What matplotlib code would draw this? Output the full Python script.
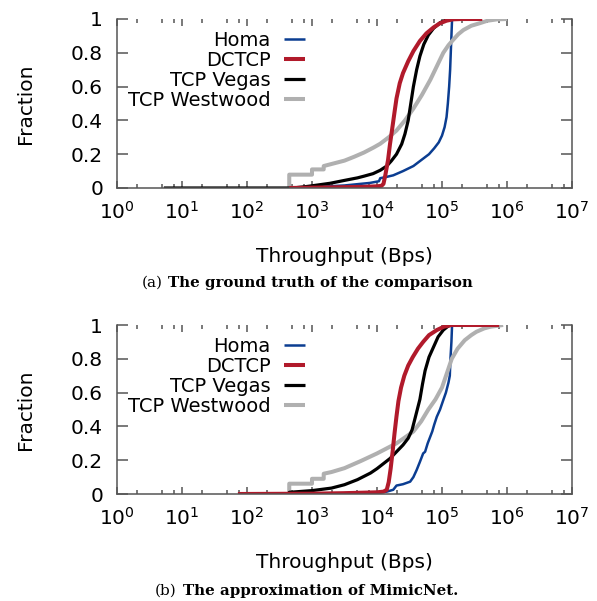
import numpy as np
import matplotlib
matplotlib.use("Agg")
import matplotlib.pyplot as plt
from matplotlib.ticker import LogLocator, FixedLocator, FixedFormatter, NullFormatter

plt.rcParams['font.family'] = ['DejaVu Sans']

# CDF curves: x as log10(Bps), y as fraction
# (a) ground truth
homa_a_lx = [3.0, 3.5, 3.89, 4.03, 4.05, 4.15, 4.25, 4.4, 4.56, 4.68, 4.80, 4.88, 4.95, 5.0,
             5.04, 5.07, 5.09, 5.11, 5.125, 5.135, 5.145, 5.155, 5.47]
homa_a_y = [0.005, 0.015, 0.03, 0.04, 0.058, 0.066, 0.075, 0.10, 0.13, 0.165, 0.20, 0.235, 0.27, 0.31,
            0.36, 0.42, 0.50, 0.60, 0.70, 0.80, 0.90, 1.0, 1.0]
dctcp_a_lx = [2.65, 3.0, 3.5, 3.8, 4.0, 4.07, 4.10, 4.13, 4.17, 4.20, 4.23, 4.27, 4.30, 4.35, 4.40,
              4.48, 4.56, 4.66, 4.76, 4.87, 4.97, 5.07, 5.17, 5.3, 5.62]
dctcp_a_y = [0.0, 0.002, 0.005, 0.007, 0.01, 0.013, 0.025, 0.08, 0.166, 0.26, 0.34, 0.45, 0.53, 0.62, 0.68,
             0.75, 0.81, 0.87, 0.915, 0.95, 0.975, 0.99, 0.998, 1.0, 1.0]
vegas_a_lx = [0.72, 2.7, 2.9, 3.0, 3.28, 3.5, 3.7, 3.8, 3.94, 4.05, 4.15, 4.22, 4.30, 4.38, 4.43,
              4.48, 4.52, 4.56, 4.61, 4.66, 4.72, 4.79, 4.87, 4.97, 5.05, 5.15, 5.45]
vegas_a_y = [0.0, 0.0, 0.008, 0.013, 0.028, 0.045, 0.06, 0.07, 0.085, 0.105, 0.13, 0.16, 0.20, 0.26, 0.32,
             0.40, 0.50, 0.60, 0.70, 0.78, 0.85, 0.905, 0.945, 0.978, 0.992, 1.0, 1.0]
westwood_a_lx = [2.65, 2.65, 3.0, 3.0, 3.18, 3.18, 3.28, 3.4, 3.5, 3.65, 3.8, 3.95, 4.05, 4.18, 4.3,
                 4.43, 4.56, 4.69, 4.82, 4.92, 5.02, 5.10, 5.17, 5.25, 5.33, 5.45, 5.58, 5.7, 5.85, 6.0]
westwood_a_y = [0.0, 0.079, 0.079, 0.11, 0.11, 0.13, 0.14, 0.152, 0.162, 0.185, 0.21, 0.24, 0.262, 0.30, 0.34,
                0.40, 0.47, 0.55, 0.64, 0.72, 0.80, 0.845, 0.876, 0.91, 0.935, 0.96, 0.975, 0.99, 0.998, 1.0]

# (b) MimicNet approximation
homa_b_lx = [3.5, 4.0, 4.15, 4.25, 4.28, 4.3, 4.4, 4.51, 4.56, 4.61, 4.66, 4.71, 4.74, 4.78, 4.82,
             4.85, 4.88, 4.92, 4.97, 5.02, 5.06, 5.10, 5.12, 5.13, 5.145, 5.155, 5.5]
homa_b_y = [0.005, 0.01, 0.014, 0.025, 0.04, 0.05, 0.058, 0.073, 0.10, 0.142, 0.19, 0.24, 0.25, 0.30, 0.34,
            0.37, 0.41, 0.457, 0.50, 0.556, 0.60, 0.66, 0.70, 0.80, 0.90, 1.0, 1.0]
dctcp_b_lx = [1.86, 3.0, 3.5, 4.0, 4.1, 4.15, 4.18, 4.21, 4.24, 4.27, 4.30, 4.33, 4.37, 4.42, 4.48,
              4.55, 4.63, 4.71, 4.80, 4.92, 5.03, 5.15, 5.88]
dctcp_b_y = [0.0, 0.002, 0.005, 0.01, 0.014, 0.025, 0.07, 0.15, 0.25, 0.36, 0.46, 0.55, 0.63, 0.70, 0.76,
             0.81, 0.86, 0.90, 0.94, 0.97, 0.99, 1.0, 1.0]
vegas_b_lx = [2.07, 2.65, 2.65, 3.0, 3.3, 3.5, 3.7, 3.9, 4.0, 4.1, 4.2, 4.3, 4.4, 4.48, 4.54, 4.58,
              4.62, 4.66, 4.70, 4.74, 4.80, 4.87, 4.94, 5.02, 5.1, 5.15, 5.7]
vegas_b_y = [0.0, 0.0, 0.01, 0.02, 0.035, 0.055, 0.085, 0.124, 0.15, 0.18, 0.21, 0.25, 0.29, 0.33, 0.38, 0.44,
             0.50, 0.56, 0.65, 0.73, 0.81, 0.87, 0.93, 0.97, 0.995, 1.0, 1.0]
westwood_b_lx = [2.65, 2.65, 3.0, 3.0, 3.18, 3.18, 3.3, 3.5, 3.75, 4.0, 4.15, 4.3, 4.45, 4.56, 4.68,
                 4.79, 4.9, 5.0, 5.08, 5.15, 5.24, 5.35, 5.45, 5.53, 5.65, 5.75, 5.94]
westwood_b_y = [0.0, 0.061, 0.061, 0.09, 0.09, 0.12, 0.13, 0.153, 0.195, 0.24, 0.27, 0.30, 0.34, 0.37, 0.43,
                0.50, 0.56, 0.63, 0.72, 0.80, 0.86, 0.91, 0.94, 0.96, 0.98, 0.99, 1.0]

labels = ['Homa', 'DCTCP', 'TCP Vegas', 'TCP Westwood']
colors = ['#0b3d91', '#b11a2b', '#000000', '#b0b0b0']
widths = [1.8, 2.9, 2.3, 2.9]
yticks = [0, 0.2, 0.4, 0.6, 0.8, 1]
ytick_labels = ['0', '0.2', '0.4', '0.6', '0.8', '1']

panels = [
    ([homa_a_lx, dctcp_a_lx, vegas_a_lx, westwood_a_lx],
     [homa_a_y, dctcp_a_y, vegas_a_y, westwood_a_y]),
    ([homa_b_lx, dctcp_b_lx, vegas_b_lx, westwood_b_lx],
     [homa_b_y, dctcp_b_y, vegas_b_y, westwood_b_y]),
]
captions = [('(a)', 'The ground truth of the comparison'),
            ('(b)', 'The approximation of MimicNet.')]

W, H = 597, 601
fig = plt.figure(figsize=(W / 100, H / 100), dpi=100)

# axes boxes in pixels: left, right, top, bottom
boxes = [(117, 572, 19, 188), (117, 572, 325, 494)]
cap_pos = [(163, 168, 283), (177, 183, 591)]
border = '#555555'

for (lxs, ys), box, cap, cp in zip(panels, boxes, captions, cap_pos):
    l, r, t, b = box
    ax = fig.add_axes([l / W, 1 - b / H, (r - l) / W, (b - t) / H])
    order = [0, 3, 2, 1]  # draw order: Homa, Westwood, Vegas, DCTCP
    lines = {}
    for i in order:
        ln, = ax.plot(10 ** np.array(lxs[i]), ys[i], color=colors[i], lw=widths[i],
                      solid_capstyle='butt', solid_joinstyle='round', label=labels[i])
        lines[i] = ln
    ax.set_xscale('log')
    ax.set_xlim(1, 1e7)
    ax.set_ylim(0, 1)
    ax.spines['top'].set_visible(False)
    for s in ['left', 'right', 'bottom']:
        ax.spines[s].set_color(border)
        ax.spines[s].set_linewidth(1.1)
    ax.xaxis.set_major_locator(LogLocator(base=10, numticks=10))
    ax.xaxis.set_minor_locator(LogLocator(base=10, subs=(2, 5, 7.5), numticks=20))
    ax.xaxis.set_minor_formatter(NullFormatter())
    ax.yaxis.set_major_locator(FixedLocator(yticks))
    ax.yaxis.set_major_formatter(FixedFormatter(ytick_labels))
    ax.tick_params(axis='x', which='major', direction='in', length=5, width=1.1,
                   color=border, top=True, labelsize=14.5, pad=9, labelcolor='black')
    ax.tick_params(axis='x', which='minor', direction='in', length=3, width=1.1,
                   color=border, top=True)
    ax.tick_params(axis='y', which='major', direction='in', length=8, width=1.1,
                   color=border, right=True, labelsize=14.5, pad=10, labelcolor='black')
    ax.set_ylabel('Fraction', fontsize=14.5)
    ax.set_xlabel('Throughput (Bps)', fontsize=14.5)
    ax.yaxis.set_label_coords(-0.202, 0.5)
    ax.yaxis.label.set_verticalalignment('center')
    ax.xaxis.set_label_coords(0.5, -0.408)
    ax.xaxis.label.set_verticalalignment('center')
    ax.legend([lines[i] for i in range(4)], labels, loc='upper right',
              bbox_to_anchor=(0.413, 0.929), markerfirst=False, frameon=False,
              fontsize=14, handlelength=1.09, handletextpad=0.67,
              labelspacing=0.05, borderpad=0, borderaxespad=0)
    fig.text(cp[0] / W, 1 - cp[2] / H, cap[0], ha='right', va='center',
             family='DejaVu Serif', fontsize=11)
    fig.text(cp[1] / W, 1 - cp[2] / H, cap[1], ha='left', va='center',
             family='DejaVu Serif', fontsize=10.8, fontweight='bold')

fig.savefig('out.png', dpi=100)
